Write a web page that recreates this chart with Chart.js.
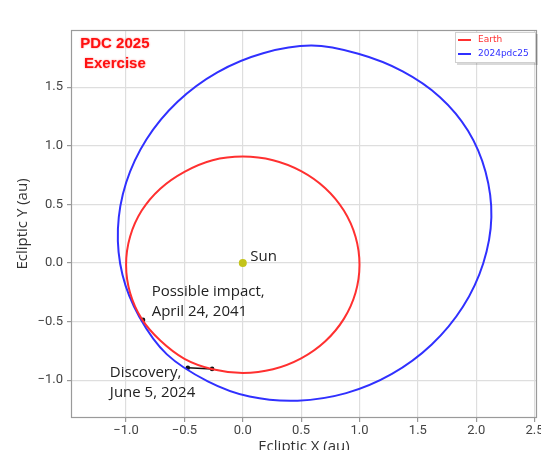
<!DOCTYPE html>
<html>
<head>
<meta charset="utf-8">
<title>PDC 2025 Exercise</title>
<script src="https://cdn.jsdelivr.net/npm/chart.js@4"></script>
<style>
    html, body { margin: 0; padding: 0; background: #fff; overflow: hidden; }
    canvas { display: block; }
</style>
</head>
<body>
<canvas id="orbitChart" width="541" height="456"></canvas>
<script>
// Orbit traces (ecliptic au), counter-clockwise, closed by the line loop
const earthX = [1.000, 0.966, 0.866, 0.707, 0.500, 0.259, 0.000, -0.259, -0.500, -0.707, -0.866, -0.966, -1.000, -0.966, -0.866, -0.707, -0.500, -0.259, 0.000, 0.259, 0.500, 0.707, 0.866, 0.966];
const earthY = [-0.015, 0.224, 0.447, 0.638, 0.784, 0.877, 0.908, 0.877, 0.778, 0.634, 0.447, 0.224, -0.015, -0.254, -0.477, -0.662, -0.818, -0.907, -0.938, -0.907, -0.814, -0.668, -0.477, -0.254];

const asteroidX = [2.130, 2.080, 1.930, 1.690, 1.370, 0.990, 0.590, 0.174, -0.218, -0.559, -0.826, -1.000, -1.070, -1.031, -0.886, -0.650, -0.300, 0.058, 0.470, 0.886, 1.278, 1.619, 1.886, 2.060];
const asteroidY = [0.390, 0.778, 1.128, 1.415, 1.635, 1.785, 1.855, 1.790, 1.627, 1.376, 1.054, 0.684, 0.290, -0.101, -0.461, -0.780, -1.010, -1.140, -1.175, -1.111, -0.947, -0.696, -0.374, -0.004];

// Marked positions
const discoveryX = [-0.471, -0.263];
const discoveryY = [-0.894, -0.904];
const impactX = [-0.855];
const impactY = [-0.486];
const sunX = [0];
const sunY = [0];

const seriesLabels = ['Earth', '2024pdc25'];
const xTicks = [-1.0, -0.5, 0.0, 0.5, 1.0, 1.5, 2.0, 2.5];
const yTicks = [-1.0, -0.5, 0.0, 0.5, 1.0, 1.5];

function toPoints(xs, ys) {
    return xs.map((x, i) => ({ x: x, y: ys[i] }));
}

function fmtTick(v) {
    return v.toFixed(1).replace('-', '\u2212');
}

// Make the two orbit lines closed loops (same trick the radar chart uses)
const closedOrbits = {
    id: 'closedOrbits',
    beforeDatasetsDraw(chart) {
        [0, 1].forEach(i => {
            const line = chart.getDatasetMeta(i).dataset;
            if (!line) return;
            line._loop = true;
            line._fullLoop = true;
            line._pointsUpdated = false;
            delete line._segments;
            line._path = undefined;
            line.updateControlPoints(chart.chartArea, 'x');
        });
    }
};

// Frame, annotations and legend drawn on top of the datasets
const overlayPlugin = {
    id: 'overlay',
    afterDatasetsDraw(chart) {
        const c = chart.ctx;
        const a = chart.chartArea;
        const sx = chart.scales.x;
        const sy = chart.scales.y;
        const px = v => sx.getPixelForValue(v);
        const py = v => sy.getPixelForValue(v);

        c.save();
        // axes box
        c.strokeStyle = '#9a9a9a';
        c.lineWidth = 1.2;
        c.strokeRect(a.left + 0.5, a.top + 0.5, a.right - a.left - 1, a.bottom - a.top - 1);

        // labels next to the marks
        c.fillStyle = '#222';
        c.font = '15px "Open Sans"';
        c.textAlign = 'left';
        c.textBaseline = 'middle';
        c.fillText('Sun', px(0.064), py(0.051));
        c.fillText('Possible impact,', px(-0.781), py(-0.247));
        c.fillText('April 24, 2041', px(-0.781), py(-0.418));
        c.fillText('Discovery,', px(-1.139), py(-0.939));
        c.fillText('June 5, 2024', px(-1.139), py(-1.109));

        // red exercise stamp
        c.fillStyle = '#ff1010';
        c.shadowColor = 'rgba(255,0,0,0.45)';
        c.shadowBlur = 2;
        c.font = 'bold 15px "Liberation Sans"';
        c.textAlign = 'center';
        c.fillText('PDC 2025', px(-1.096), py(1.869));
        c.fillText('Exercise', px(-1.096), py(1.698));
        c.shadowBlur = 0;

        // legend, top right
        const lx = a.right - 82, ly = a.top + 2, lw = 81, lh = 31;
        c.fillStyle = 'rgba(0,0,0,0.15)';
        c.fillRect(lx + 2, ly + 2, lw, lh);
        c.fillStyle = '#fff';
        c.fillRect(lx, ly, lw, lh);
        c.strokeStyle = '#d0d0d0';
        c.lineWidth = 1;
        c.strokeRect(lx + 0.5, ly + 0.5, lw - 1, lh - 1);
        c.font = '9px "DejaVu Sans"';
        c.textAlign = 'left';
        [0, 1].forEach(i => {
            const ds = chart.data.datasets[i];
            const yy = ly + 8 + i * 14;
            c.strokeStyle = ds.borderColor;
            c.lineWidth = 2;
            c.beginPath();
            c.moveTo(lx + 3, yy);
            c.lineTo(lx + 16, yy);
            c.stroke();
            c.fillStyle = ds.borderColor;
            c.fillText(ds.label, lx + 23, yy);
        });
        c.restore();
    }
};

const ctx = document.getElementById('orbitChart').getContext('2d');

const tickFont = { family: 'Roboto', size: 13 };
const titleFont = { family: 'Open Sans', size: 15 };

new Chart(ctx, {
    type: 'scatter',
    data: {
        datasets: [
            {
                label: seriesLabels[0],
                data: toPoints(earthX, earthY),
                showLine: true,
                borderColor: '#ff3030',
                borderWidth: 2,
                pointRadius: 0,
                tension: 0.34
            },
            {
                label: seriesLabels[1],
                data: toPoints(asteroidX, asteroidY),
                showLine: true,
                borderColor: '#3030ff',
                borderWidth: 2,
                pointRadius: 0,
                tension: 0.34
            },
            {
                label: 'Discovery',
                data: toPoints(discoveryX, discoveryY),
                showLine: true,
                borderColor: '#111',
                borderWidth: 1.5,
                pointRadius: 2.3,
                pointBackgroundColor: '#111',
                pointBorderWidth: 0
            },
            {
                label: 'Impact',
                data: toPoints(impactX, impactY),
                pointRadius: 2.3,
                pointBackgroundColor: '#111',
                pointBorderWidth: 0
            },
            {
                label: 'Sun',
                data: toPoints(sunX, sunY),
                pointRadius: 4,
                pointBackgroundColor: '#c4c41a',
                pointBorderWidth: 0
            }
        ]
    },
    options: {
        responsive: false,
        animation: false,
        layout: { padding: { top: 30, right: 2, bottom: 0, left: 0 } },
        plugins: {
            legend: { display: false },
            tooltip: { enabled: false }
        },
        scales: {
            x: {
                type: 'linear',
                min: -1.472,
                max: 2.521,
                afterBuildTicks: s => { s.ticks = xTicks.map(v => ({ value: v })); },
                afterFit: s => { s.height = 38; s.paddingLeft = 0; s.paddingRight = 0; },
                ticks: { callback: fmtTick, font: tickFont, color: '#444', padding: 1, autoSkip: false, maxRotation: 0 },
                grid: { color: '#dedede', lineWidth: 1.2, tickColor: '#999', tickLength: 4 },
                border: { display: false },
                title: { display: true, text: 'Ecliptic X (au)', font: titleFont, color: '#333', padding: 0 }
            },
            y: {
                type: 'linear',
                min: -1.323,
                max: 1.988,
                afterBuildTicks: s => { s.ticks = yTicks.map(v => ({ value: v })); },
                afterFit: s => { s.width = 71; s.paddingTop = 0; s.paddingBottom = 0; },
                ticks: { callback: fmtTick, font: tickFont, color: '#444', padding: 4, autoSkip: false },
                grid: { color: '#dedede', lineWidth: 1.2, tickColor: '#999', tickLength: 4 },
                border: { display: false },
                title: { display: true, text: 'Ecliptic Y (au)', font: titleFont, color: '#333', padding: { top: 14, bottom: 14 } }
            }
        }
    },
    plugins: [closedOrbits, overlayPlugin]
});
</script>
</body>
</html>
